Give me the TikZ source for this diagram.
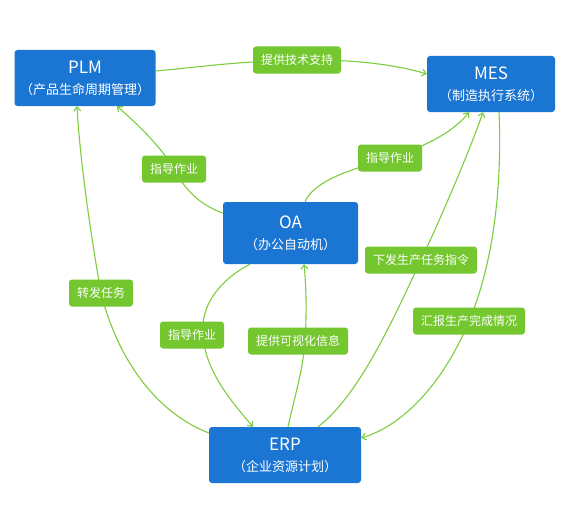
\documentclass[tikz,border=0pt]{standalone}
\usepackage{fontspec}
\setmainfont{Noto Sans CJK SC}
\usetikzlibrary{arrows.meta}
\pgfdeclarelayer{bg}
\pgfsetlayers{bg,main}
\definecolor{boxblue}{RGB}{27,117,210}
\definecolor{lblgreen}{RGB}{116,199,46}
\definecolor{edgegreen}{RGB}{125,206,62}
\tikzset{
  sysbox/.style={draw=none, fill=boxblue, rounded corners=3pt, text=white, align=center,
    inner sep=0pt, font=\fontsize{13}{21}\selectfont},
  lbl/.style={fill=lblgreen, rounded corners=3pt, text=white, inner xsep=8pt, inner ysep=0pt,
    minimum height=27pt, font=\fontsize{12}{13}\selectfont},
  edge/.style={draw=edgegreen, line width=1.1pt, -{Straight Barb[length=4pt,width=7pt]}},
}
\newcommand{\ttl}[1]{{\fontsize{17}{21}\selectfont #1}}
\begin{document}
\begin{tikzpicture}[x=1pt,y=-1pt]
\path[use as bounding box] (0,0) rectangle (570,511);
% systems
\node[sysbox, minimum width=141pt, minimum height=56pt] (PLM) at (85,78) {\ttl{PLM}\\（产品生命周期管理）};
\node[sysbox, minimum width=128pt, minimum height=56pt] (MES) at (491,84) {\ttl{MES}\\（制造执行系统）};
\node[sysbox, minimum width=135pt, minimum height=62pt] (OA) at (290.5,233) {\ttl{OA}\\（办公自动机）};
\node[sysbox, minimum width=152pt, minimum height=56pt] (ERP) at (285,455) {\ttl{ERP}\\（企业资源计划）};
% labels
\node[lbl] (L1) at (297,60) {提供技术支持};
\node[lbl] (L2) at (174,169) {指导作业};
\node[lbl] (L3) at (390,158) {指导作业};
\node[lbl] (L4) at (421,260) {下发生产任务指令};
\node[lbl] (L5) at (101,293) {转发任务};
\node[lbl] (L6) at (192,335) {指导作业};
\node[lbl] (L7) at (298,341) {提供可视化信息};
\node[lbl] (L8) at (469,321) {汇报生产完成情况};
% connectors
\begin{pgfonlayer}{bg}
\fill[white] (0,0) rectangle (570,511);
\draw[edge] ([yshift=7pt]PLM.east) .. controls (200,67) and (230,62) .. (L1.center)
  .. controls (360,59) and (400,66) .. ([yshift=10pt]MES.west);
\draw[edge] ([yshift=20pt]OA.west) .. controls (200,205) and (185,190) .. (L2.center)
  .. controls (160,145) and (135,122) .. ([xshift=32pt]PLM.south);
\draw[edge] ([xshift=14.5pt]OA.north) .. controls (315,180) and (350,170) .. (L3.center)
  .. controls (430,145) and (455,130) .. ([xshift=-22pt]MES.south);
\draw[edge] ([xshift=33pt]ERP.north) .. controls (360,395) and (395,315) .. (L4.center)
  .. controls (440,220) and (470,150) .. ([xshift=-8pt]MES.south);
\draw[edge] ([xshift=8pt]MES.south) .. controls (502,180) and (495,260) .. (L8.center)
  .. controls (445,380) and (405,425) .. ([yshift=17pt]ERP.east);
\draw[edge] ([yshift=22pt]ERP.west) .. controls (150,410) and (115,350) .. (L5.center)
  .. controls (90,230) and (80,160) .. ([xshift=-8pt]PLM.south);
\draw[edge] ([xshift=-40.5pt]OA.south) .. controls (220,280) and (200,305) .. ([xshift=11pt]L6.center)
  .. controls (205,370) and (230,400) .. ([xshift=-32pt]ERP.north);
\draw[edge] ([xshift=3pt]ERP.north) .. controls (295,395) and (303,370) .. ([xshift=7pt]L7.center)
  .. controls (307,310) and (306,285) .. ([xshift=13.5pt]OA.south);
\end{pgfonlayer}
\end{tikzpicture}
\end{document}
